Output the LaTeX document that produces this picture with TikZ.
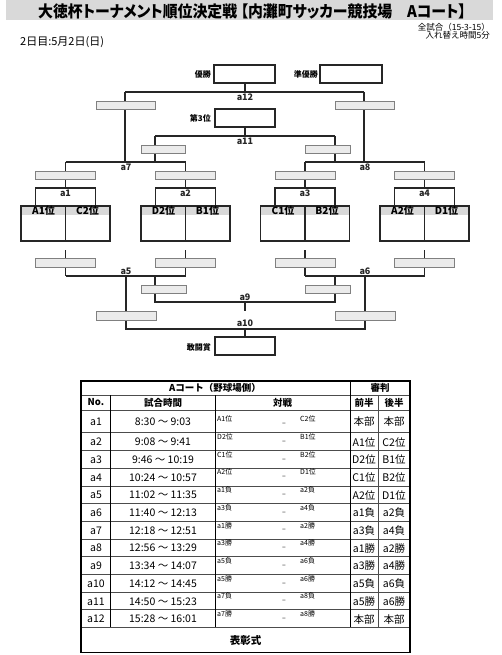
\documentclass[tikz,border=0pt]{standalone}
\usepackage{fontspec}
\setmainfont{Noto Sans CJK JP}
\newfontfamily\titlefont[RawFeature=+palt]{Noto Sans CJK JP}
\definecolor{lnc}{HTML}{262626}
\definecolor{gfill}{HTML}{EBEBEB}
\definecolor{gdraw}{HTML}{808080}
\definecolor{band}{HTML}{D9D9D9}
\tikzset{
 br/.style={line width=1.1pt, draw=lnc},
 gbox/.style={draw=gdraw, fill=gfill, line width=0.9pt, inner sep=0pt, outer sep=0pt},
 wbox/.style={draw=lnc, fill=white, line width=1.1pt, inner sep=0pt, outer sep=0pt},
 alab/.style={font=\bfseries\fontsize{9}{9}\selectfont, inner sep=0pt, text=lnc},
 plab/.style={font=\bfseries\fontsize{8}{8}\selectfont, inner sep=0pt, anchor=east},
 tlab/.style={font=\bfseries\fontsize{10}{10}\selectfont, inner sep=0pt},
 tt/.style={font=\fontsize{10.5}{10.5}\selectfont, inner sep=0pt},
 th/.style={font=\bfseries\fontsize{9.5}{9.5}\selectfont, inner sep=0pt},
 ts/.style={font=\fontsize{7}{7}\selectfont, inner sep=0pt, anchor=west},
 tline/.style={line width=0.6pt, draw=black!70},
 tvl/.style={line width=1pt, draw=black},
}
\newcommand\gb[5]{\node[gbox, minimum width=#4pt, minimum height=#5pt] (#1) at (#2,#3) {};}
\newcommand\trow[8]{%
 \node[tt] (no#3) at (96,{(#1+#2)/2+0.5}) {a#3};
 \node[tt] (tm#3) at (163,{(#1+#2)/2+0.5}) {#4};
 \node[ts] (ml#3) at (217,{#2-13.5}) {#5};
 \node[ts, anchor=center] (md#3) at (284,{#2-8}) {–};
 \node[ts] (mr#3) at (300,{#2-13.5}) {#6};
 \node[tt] (ra#3) at (364,{(#1+#2)/2+0.5}) {#7};
 \node[tt] (rb#3) at (394,{(#1+#2)/2+0.5}) {#8};
 \draw[tline] (81,#2) -- (410,#2);
}
\begin{document}
\begin{tikzpicture}[x=1pt, y=-1pt]
\useasboundingbox (0,0) rectangle (502,655);
% ---------- title ----------
\fill[band] (6,0) rectangle (493,20.5);
\node[font=\titlefont\bfseries\fontsize{16}{16}\selectfont, inner sep=0pt] (title) at (252,11.5) {\scalebox{0.93}[1]{大徳杯トーナメント順位決定戦 【内灘町サッカー競技場　Aコート】}};
\node[font=\fontsize{8.5}{8.5}\selectfont, inner sep=0pt, anchor=east] (info1) at (490,27) {全試合（15-3-15）};
\node[font=\fontsize{8.5}{8.5}\selectfont, inner sep=0pt, anchor=east] (info2) at (490,35) {入れ替え時間5分};
\node[font=\fontsize{11}{11}\selectfont, inner sep=0pt, anchor=west] (day) at (20,42) {2日目:5月2日(日)};
% ---------- bracket lines ----------
\coordinate (a12l) at (125,92); \coordinate (a12r) at (364,92); \coordinate (a12c) at (245,92);
\coordinate (a11l) at (155,136); \coordinate (a11r) at (335,136); \coordinate (a11c) at (245,136);
\coordinate (a7l) at (65.5,162); \coordinate (a7r) at (185.5,162);
\coordinate (a8l) at (305,162); \coordinate (a8r) at (424.5,162);
\draw[br] (a12c) -- (245,83);
\draw[br] (a12l) -- (a12r);
\draw[br] (a12l) -- (125,162);
\draw[br] (a12r) -- (364,162);
\draw[br] (a11c) -- (245,127);
\draw[br] (a11l) -- (a11r);
\draw[br] (a11l) -- (155,162);
\draw[br] (a11r) -- (335,162);
\draw[br] (a7l) -- (a7r);
\draw[br] (a8l) -- (a8r);
\foreach \c in {65.5,185.5,305,424.5} {
  \draw[br] (\c,162) -- (\c,188);
  \draw[br] (\c-30,206) |- (\c+30,188) -- (\c+30,206);
  \draw[br] (\c,250) -- (\c,276);
}
\draw[br] (65.5,276) -- (185.5,276);
\draw[br] (305,276) -- (424.5,276);
\draw[br] (155,276) -- (155,302) -- (335,302) -- (335,276);
\draw[br] (245,302) -- (245,311);
\draw[br] (126,276) -- (126,329) -- (365,329) -- (365,276);
\draw[br] (245,329) -- (245,337);
% ---------- grey boxes ----------
\gb{g12l}{125.5}{105}{59}{8}
\gb{g12r}{364.5}{105}{59}{8}
\gb{g11l}{163}{149}{44}{8}
\gb{g11r}{327.5}{149}{45}{8}
\gb{gu1}{65.5}{175.5}{60}{8.5}
\gb{gu2}{185.5}{175.5}{60}{8.5}
\gb{gu3}{305}{175.5}{60}{8.5}
\gb{gu4}{424.5}{175.5}{60}{8.5}
\gb{gd1}{65.5}{262.5}{60}{9}
\gb{gd2}{185.5}{262.5}{60}{9}
\gb{gd3}{305}{262.5}{60}{9}
\gb{gd4}{424.5}{262.5}{60}{9}
\gb{g9l}{163.5}{289}{45}{8}
\gb{g9r}{327.5}{289}{45}{8}
\gb{g10l}{126}{315.5}{60}{9}
\gb{g10r}{365}{315.5}{60}{9}
% ---------- white result boxes ----------
\node[wbox, minimum width=61pt, minimum height=18pt] (win) at (244.5,74) {};
\node[plab] (winl) at (211,74) {優勝};
\node[wbox, minimum width=62pt, minimum height=18pt] (runner) at (351,74) {};
\node[plab] (runnerl) at (318,74) {準優勝};
\node[wbox, minimum width=60pt, minimum height=18pt] (third) at (245,118) {};
\node[plab] (thirdl) at (211,118) {第3位};
\node[wbox, minimum width=60pt, minimum height=18pt] (fight) at (245,346) {};
\node[plab] (fightl) at (211,347) {敢闘賞};
% ---------- team boxes ----------
\foreach \c/\l/\r/\n in {65.5/A1位/C2位/1,185.5/D2位/B1位/2,305/C1位/B2位/3,424.5/A2位/D1位/4} {
  \fill[band] (\c-44.5,206) rectangle (\c+44.5,215);
  \node[wbox, fill=none, minimum width=89pt, minimum height=35pt] (team\n) at (\c,223.5) {};
  \draw[br] (team\n.north) -- (team\n.south);
  \node[tlab] (tl\n) at (\c-22,211) {\l};
  \node[tlab] (tr\n) at (\c+22,211) {\r};
  \node[alab] (la\n) at (\c,193.5) {a\n};
}
% ---------- match labels ----------
\node[alab] (la12) at (245,97.5) {a12};
\node[alab] (la11) at (245,141.5) {a11};
\node[alab] (la7) at (126,167.5) {a7};
\node[alab] (la8) at (365,167.5) {a8};
\node[alab] (la5) at (126,271.5) {a5};
\node[alab] (la6) at (365,271.5) {a6};
\node[alab] (la9) at (245,297.5) {a9};
\node[alab] (la10) at (245,323.5) {a10};
% ---------- table ----------
\node[th] (hA) at (215,388) {Aコート（野球場側）};
\node[th] (hR) at (380,388) {審判};
\draw[tline] (81,395) -- (410,395);
\node[th] (hNo) at (96,402.5) {No.};
\node[th] (hT) at (163,402.5) {試合時間};
\node[th] (hM) at (282.5,402.5) {対戦};
\node[th] (hF) at (364,402.5) {前半};
\node[th] (hB) at (394,402.5) {後半};
\draw[tline] (81,410) -- (410,410);
\trow{410}{432.7}{1}{8:30 ～ 9:03}{A1位}{C2位}{本部}{本部}
\trow{432.7}{450.4}{2}{9:08 ～ 9:41}{D2位}{B1位}{A1位}{C2位}
\trow{450.4}{468.1}{3}{9:46 ～ 10:19}{C1位}{B2位}{D2位}{B1位}
\trow{468.1}{485.8}{4}{10:24 ～ 10:57}{A2位}{D1位}{C1位}{B2位}
\trow{485.8}{503.5}{5}{11:02 ～ 11:35}{a1負}{a2負}{A2位}{D1位}
\trow{503.5}{521.2}{6}{11:40 ～ 12:13}{a3負}{a4負}{a1負}{a2負}
\trow{521.2}{538.9}{7}{12:18 ～ 12:51}{a1勝}{a2勝}{a3負}{a4負}
\trow{538.9}{556.6}{8}{12:56 ～ 13:29}{a3勝}{a4勝}{a1勝}{a2勝}
\trow{556.6}{574.3}{9}{13:34 ～ 14:07}{a5負}{a6負}{a3勝}{a4勝}
\trow{574.3}{592}{10}{14:12 ～ 14:45}{a5勝}{a6勝}{a5負}{a6負}
\trow{592}{609.7}{11}{14:50 ～ 15:23}{a7負}{a8負}{a5勝}{a6勝}
\trow{609.7}{627.4}{12}{15:28 ～ 16:01}{a7勝}{a8勝}{本部}{本部}
\node[th, font=\bfseries\fontsize{10.5}{10.5}\selectfont] (award) at (245.5,640) {表彰式};
\draw[tvl] (110.5,395) -- (110.5,627.4);
\draw[tvl] (215,395) -- (215,627.4);
\draw[tvl] (350,381) -- (350,627.4);
\draw[tline] (378.5,395) -- (378.5,627.4);
\draw[line width=1.3pt, draw=black] (81,381) rectangle (410,652.5);
\end{tikzpicture}
\end{document}
